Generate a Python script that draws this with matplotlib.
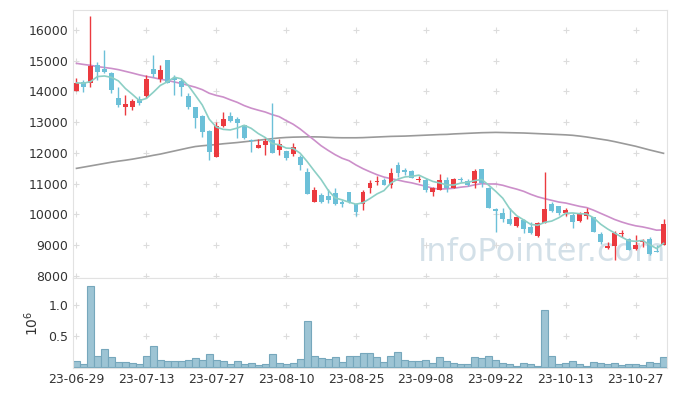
import matplotlib
matplotlib.use("Agg")
import matplotlib.pyplot as plt
import numpy as np

# 일봉 데이터 (23-06-29 ~ 23-11-02), 그림에서 읽은 값
opens = [14000, 14320, 14270, 14860, 14730, 14590, 13800, 13485, 13480, 13760,
         13850, 14720, 14400, 15020, 14430, 14350, 13840, 13510, 13200, 12725,
         11880, 12880, 13200, 13100, 12910, 12420, 12170, 12260, 12420, 12100,
         12065, 11970, 11880, 11390, 10415, 10635, 10600, 10690, 10400, 10720,
         10340, 10340, 10850, 11070, 11120, 10960, 11610, 11440, 11415, 11110,
         11120, 10745, 10800, 11120, 10870, 11150, 11090, 11035, 11470, 10850,
         10165, 10060, 9855, 9635, 9820, 9600, 9310, 9735, 10340, 10275,
         10040, 9985, 9800, 9960, 9930, 9365, 8900, 8985, 9355, 9205,
         8870, 9095, 9205, 8815, 9010]
highs = [14440, 14375, 16440, 14970, 15350, 14650, 14160, 13890, 13750, 13850,
         14530, 15190, 14860, 15020, 14540, 14400, 13950, 13510, 13235, 12750,
         13020, 13345, 13345, 13180, 12910, 12470, 12460, 12480, 13615, 12445,
         12065, 12315, 11935, 11500, 10905, 10690, 10820, 10855, 10470, 10720,
         10365, 10800, 11120, 11260, 11175, 11520, 11700, 11520, 11450, 11260,
         11175, 10905, 11310, 11230, 11175, 11230, 11145, 11470, 11470, 10885,
         10220, 10200, 10200, 9930, 9845, 9765, 9765, 11390, 10415, 10275,
         10200, 10060, 10090, 10200, 9930, 9440, 9095, 9465, 9495, 9225,
         9335, 9205, 9280, 9010, 9855]
lows = [14000, 13975, 14140, 14380, 14590, 13940, 13510, 13240, 13400, 13560,
        13780, 14480, 14320, 14290, 13900, 13840, 13420, 12820, 12525, 11770,
        11880, 12840, 13020, 12480, 12455, 12040, 12170, 11940, 11990, 11935,
        11770, 11900, 11450, 10665, 10415, 10390, 10365, 10310, 10255, 10365,
        9950, 10145, 10690, 10960, 10960, 10870, 11230, 11285, 11175, 11070,
        10745, 10610, 10800, 10720, 10870, 11045, 10925, 10850, 10905, 10220,
        9440, 9765, 9650, 9600, 9410, 9380, 9280, 9735, 10090, 9985,
        9950, 9550, 9765, 9855, 9440, 9030, 8870, 8520, 9280, 8845,
        8845, 8955, 8680, 8770, 9010]
closes = [14270, 14140, 14830, 14650, 14630, 14050, 13560, 13590, 13700, 13620,
          14400, 14570, 14700, 14290, 14360, 14140, 13480, 13130, 12690, 12040,
          12880, 13100, 13040, 12990, 12500, 12380, 12260, 12390, 12010, 12290,
          11850, 12205, 11610, 10665, 10800, 10420, 10470, 10340, 10350, 10420,
          10090, 10720, 11015, 11100, 10960, 11340, 11340, 11370, 11195, 11155,
          10800, 10850, 11120, 10870, 11155, 11120, 10960, 11415, 11035, 10220,
          10125, 9855, 9690, 9910, 9530, 9410, 9710, 10165, 10115, 10060,
          10145, 9765, 10040, 10070, 9440, 9115, 8985, 9385, 9410, 8845,
          9010, 9140, 8705, 8770, 9680]
# 거래량 (백만주)
volumes = [0.10, 0.05, 1.30, 0.18, 0.29, 0.16, 0.08, 0.08, 0.064, 0.05,
           0.18, 0.34, 0.117, 0.096, 0.096, 0.096, 0.117, 0.144, 0.117, 0.21,
           0.117, 0.096, 0.053, 0.096, 0.053, 0.064, 0.032, 0.048, 0.21, 0.064,
           0.048, 0.064, 0.128, 0.75, 0.176, 0.144, 0.128, 0.16, 0.08, 0.176,
           0.19, 0.225, 0.225, 0.16, 0.08, 0.19, 0.24, 0.117, 0.096, 0.096,
           0.117, 0.064, 0.16, 0.096, 0.064, 0.048, 0.048, 0.16, 0.144, 0.176,
           0.117, 0.064, 0.048, 0.016, 0.064, 0.048, 0.016, 0.915, 0.176, 0.048,
           0.064, 0.096, 0.048, 0.016, 0.08, 0.064, 0.048, 0.064, 0.032, 0.048,
           0.048, 0.032, 0.08, 0.064, 0.16]

# 이동평균: 앞부분은 이전 데이터가 없어서 그림에서 읽은 값
ma5_head = [14280, 14270, 14320, 14485]
ma20_head = [14915, 14880, 14850, 14810, 14780, 14750, 14710, 14655, 14600, 14540,
             14490, 14450, 14400, 14360, 14310, 14260, 14200, 14140, 14060]
ma120 = [11500, 11540, 11580, 11620, 11660, 11700, 11735, 11765, 11800, 11840,
         11880, 11925, 11965, 12015, 12065, 12115, 12165, 12210, 12235, 12255,
         12275, 12300, 12320, 12340, 12365, 12390, 12415, 12440, 12465, 12490,
         12505, 12515, 12520, 12525, 12525, 12520, 12510, 12500, 12495, 12495,
         12495, 12500, 12510, 12520, 12530, 12540, 12545, 12550, 12560, 12570,
         12580, 12590, 12600, 12605, 12620, 12630, 12640, 12650, 12660, 12665,
         12670, 12665, 12660, 12655, 12650, 12640, 12630, 12620, 12610, 12600,
         12590, 12575, 12550, 12520, 12485, 12450, 12415, 12370, 12320, 12270,
         12220, 12160, 12100, 12045, 11990]

tick_labels = ['23-06-29', '23-07-13', '23-07-27', '23-08-10', '23-08-25',
               '23-09-08', '23-09-22', '23-10-13', '23-10-27']
price_ticks = [8000, 9000, 10000, 11000, 12000, 13000, 14000, 15000, 16000]
vol_ticks = [0.5, 1.0]

UP = '#eb3a3f'
DOWN = '#6cc0d8'


def moving_avg(head, values, n):
    out = list(head)
    for i in range(len(head), len(values)):
        out.append(np.mean(values[i - n + 1:i + 1]))
    return out


o = np.array(opens); h = np.array(highs); l = np.array(lows); c = np.array(closes)
x = np.arange(len(c))
ma5 = moving_avg(ma5_head, closes, 5)
ma20 = moving_avg(ma20_head, closes, 20)

fig = plt.figure(figsize=(6.77, 3.96), dpi=100)
W, H = 677, 396
ax1 = fig.add_axes([73 / W, 1 - 278 / H, 594 / W, 268 / H])
ax2 = fig.add_axes([73 / W, 1 - 368 / H, 594 / W, 90 / H], sharex=ax1)

colors = [UP if cc >= oo else DOWN for oo, cc in zip(o, c)]
ax1.vlines(x, l, h, colors=colors, linewidth=1.0, zorder=3)
body = np.maximum(np.abs(c - o), 25)
ax1.bar(x, body, bottom=np.minimum(o, c), width=0.7, color=colors, zorder=3)

ax1.plot(x, ma120, color='#9a9a9a', linewidth=1.2, zorder=2)
ax1.plot(x, ma20, color='#cc8fca', linewidth=1.2, zorder=2)
ax1.plot(x, ma5, color='#8ccfc5', linewidth=1.2, zorder=4)

ax2.bar(x, volumes, width=1.0, color='#9dc4d4', edgecolor='#76a7bc', linewidth=0.8)

tick_pos = np.arange(0, len(c), 10)[:len(tick_labels)]
for ax, yt in ((ax1, price_ticks), (ax2, vol_ticks)):
    gx, gy = np.meshgrid(tick_pos, yt)
    ax.scatter(gx.ravel(), gy.ravel(), marker='+', s=18, color='#dcdcdc',
               linewidths=0.8, zorder=1)
    for s in ax.spines.values():
        s.set_color('#e2e2e2')
    ax.tick_params(length=0, labelsize=9, labelcolor='#333333')

ax1.set_xlim(-0.5, len(c) - 0.5)
ax1.set_ylim(7935, 16650)
ax1.set_yticks(price_ticks)
ax1.tick_params(labelbottom=False)

ax2.set_ylim(-0.01, 1.43)
ax2.set_yticks(vol_ticks)
ax2.set_yticklabels(['0.5', '1.0'])
ax2.set_xticks(tick_pos)
ax2.set_xticklabels(tick_labels)
ax2.set_ylabel(r'$10^6$', fontsize=10, color='#333333', labelpad=5)

ax1.text(0.79, 0.095, 'InfoPointer.com', transform=ax1.transAxes,
         ha='center', va='center', fontsize=23, color='#c9d9e3', alpha=0.8, zorder=0)

fig.savefig('out.png', dpi=100)
